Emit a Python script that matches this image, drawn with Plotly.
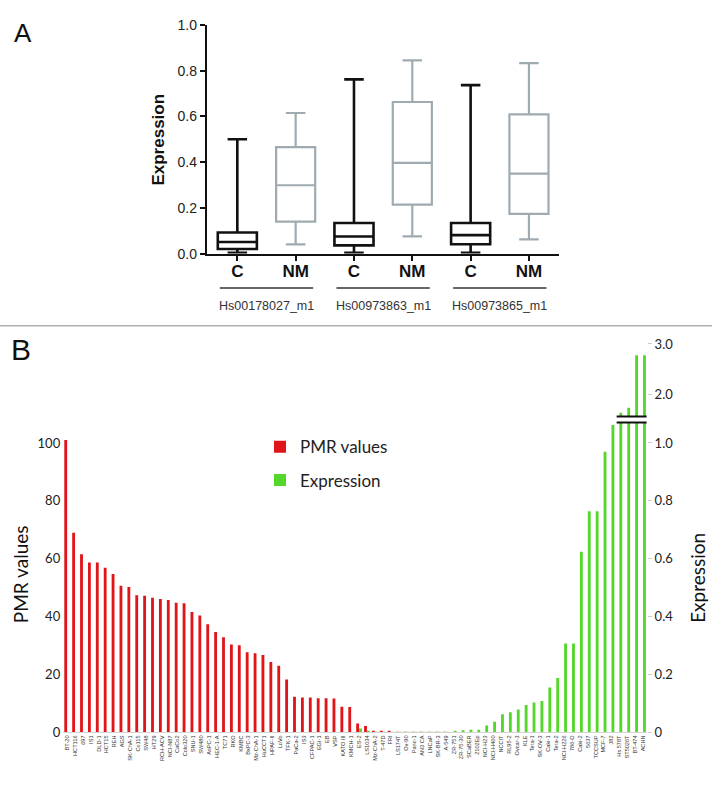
import plotly.graph_objects as go

# ---------------- Panel A data ----------------
genes = ["Hs00178027_m1", "Hs00973863_m1", "Hs00973865_m1"]
box_labels = ["C", "NM", "C", "NM", "C", "NM"]
c_q1 = [0.020, 0.036, 0.041]
c_median = [0.051, 0.075, 0.081]
c_q3 = [0.092, 0.134, 0.134]
c_low = [0.003, 0.004, 0.004]
c_high = [0.500, 0.762, 0.737]
nm_q1 = [0.140, 0.214, 0.174]
nm_median = [0.299, 0.397, 0.350]
nm_q3 = [0.466, 0.663, 0.609]
nm_low = [0.040, 0.075, 0.062]
nm_high = [0.615, 0.845, 0.833]

# ---------------- Panel B data ----------------
cells = ["BT-20", "HCT116", "697", "IS1", "DLD-1", "HCT15", "REH", "AGS", "SK-ChA-1", "Co115",
         "SW48", "HT29", "RCH-ACV", "NCI-N87", "CaCo2", "Colo320", "SNU-1", "SW480", "AsPC-1", "HEC-1-A",
         "TC71", "RKO", "KMBC", "BxPC-3", "Mz-ChA-1", "HuCCT1", "HPAF-II", "LoVo", "TFK-1", "PaCa-2",
         "IS3", "CFPAC-1", "EGI-1", "EB", "VSP", "KATO III", "KMCH-1", "ES-2", "LS1034", "Mz-ChA-2",
         "T-47D", "FRI", "LS174T", "Ov-90", "Panc-1", "AN3 CA", "LNCaP", "SK-BR-3", "A-549", "ZR-751",
         "ZR-75-30", "SCaBER", "2102Ep", "NCI-H23", "NCI-H460", "NCCIT", "RL95-2", "Ovcar-3", "KLE", "Tera-1",
         "SK-OV-3", "Caki-1", "Tera-2", "NCI-H226", "786-O", "Caki-2", "5637", "TCCSUP", "MCF-7", "J82",
         "Hs 578T", "ST5026T", "BT-474", "ACHN"]
pmr = [101, 69, 61.5, 58.7, 58.7, 56.9, 54.7, 50.6, 50.2, 47.4,
       47.2, 46.5, 46.1, 45.7, 44.8, 44.6, 41.6, 40.4, 37.3, 34.7,
       32.8, 30.3, 30.1, 27.7, 27.3, 26.7, 24.3, 23.0, 18.2, 12.3,
       12.0, 12.0, 11.8, 11.8, 11.7, 8.8, 8.7, 3.0, 2.2, 0.4,
       0.3, 0.3, 0.2, 0.2, 0.2, 0.2, 0.2, 0.1, 0.1, 0,
       0, 0, 0, 0, 0, 0, 0, 0, 0, 0,
       0, 0, 0, 0, 0, 0, 0, 0, 0, 0,
       0, 0, 0, 0]
expression = [0, 0, 0, 0, 0, 0, 0, 0, 0, 0,
              0, 0, 0, 0, 0, 0, 0, 0, 0, 0,
              0, 0, 0, 0, 0, 0, 0, 0, 0, 0,
              0, 0, 0, 0, 0, 0, 0, 0.013, 0.003, 0.001,
              0.001, 0.001, 0.001, 0.001, 0.001, 0.001, 0.001, 0.001, 0.002, 0.0056,
              0.007, 0.009, 0.009, 0.023, 0.036, 0.062, 0.069, 0.079, 0.094, 0.103,
              0.108, 0.155, 0.188, 0.307, 0.307, 0.624, 0.764, 0.764, 0.970, 1.062,
              1.65, 1.75, 2.78, 2.78]
pmr_ticks = [0, 20, 40, 60, 80, 100]
expr_ticks = [0, 0.2, 0.4, 0.6, 0.8, 1.0, 2.0, 3.0]
expr_ticktext = ["0", "0.2", "0.4", "0.6", "0.8", "1.0", "2.0", "3.0"]

# broken right axis: linear up to the break, compressed above it
BREAK_D = 1.08


def to_display(v):
    if v <= BREAK_D:
        return v
    return 1.166 + (v - 2.0) * 0.176


expr_disp = [to_display(v) for v in expression]
expr_tickvals = [to_display(v) for v in expr_ticks]

W, H = 712, 787
TOP_D = 1.35

fig = go.Figure()

# ---- Panel B bars ----
fig.add_trace(go.Bar(x=cells, y=pmr, name="PMR values", marker=dict(color="#e0151a", line=dict(width=0)),
                     width=0.36, offset=-0.36, xaxis="x", yaxis="y", legendgroup="a"))
fig.add_trace(go.Bar(x=cells, y=expr_disp, name="Expression", customdata=expression,
                     hovertemplate="%{x}: %{customdata}<extra></extra>",
                     marker=dict(color="#55d62a", line=dict(width=0)),
                     width=0.36, offset=0.0, xaxis="x", yaxis="y2", legendgroup="b"))

# ---- Panel A boxes ----
fig.add_trace(go.Box(x=[0, 2, 4], q1=c_q1, median=c_median, q3=c_q3, lowerfence=c_low, upperfence=c_high,
                     width=0.67, whiskerwidth=0.5, fillcolor="white", line=dict(color="#111111", width=2.6),
                     boxpoints=False, showlegend=False, xaxis="x2", yaxis="y3", name="C"))
fig.add_trace(go.Box(x=[1, 3, 5], q1=nm_q1, median=nm_median, q3=nm_q3, lowerfence=nm_low, upperfence=nm_high,
                     width=0.67, whiskerwidth=0.5, fillcolor="white", line=dict(color="#9fabb1", width=2.2),
                     boxpoints=False, showlegend=False, xaxis="x2", yaxis="y3", name="NM"))

b_font = dict(family="Lato, 'Open Sans', sans-serif", size=13, color="#222222")
a_font = dict(family="'Liberation Sans', Arial, sans-serif", size=14, color="#222222")

fig.update_layout(
    width=W, height=H,
    margin=dict(l=0, r=0, t=0, b=0),
    paper_bgcolor="white", plot_bgcolor="white",
    barmode="overlay",
    showlegend=True,
    legend=dict(x=(300 - 40) / W, xanchor="left", y=1 - 430 / H, yanchor="top",
                font=dict(family="Lato, sans-serif", size=17, color="#222222"),
                bgcolor="rgba(0,0,0,0)", tracegroupgap=8, traceorder="grouped"),
    xaxis=dict(domain=[63.2 / W, 647.0 / W], anchor="y", type="category", range=[-0.5, 73.5],
               tickangle=-90, tickfont=dict(family="'Liberation Sans', Arial, sans-serif", size=5.6, color="#333333"),
               showline=True, linecolor="#d5d5d5", linewidth=1, ticks="", showgrid=False, zeroline=False),
    yaxis=dict(domain=[1 - 739.3 / H, 1 - 340.6 / H], anchor="x", range=[0, TOP_D * 100],
               tickvals=pmr_ticks, tickfont=b_font, showgrid=False, zeroline=False, showline=False,
               ticks="", ticklabelstandoff=2),
    yaxis2=dict(overlaying="y", side="right", anchor="x", range=[0, TOP_D],
                tickvals=expr_tickvals, ticktext=expr_ticktext, tickfont=b_font,
                showgrid=False, zeroline=False, showline=False,
                ticks="outside", ticklen=4, tickcolor="#cccccc", tickwidth=1),
    xaxis2=dict(domain=[207 / W, 558.7 / W], anchor="y3", range=[-0.52, 5.51],
                tickvals=[0, 1, 2, 3, 4, 5], ticktext=box_labels,
                tickfont=dict(family="'Liberation Sans', Arial, sans-serif", size=17, color="#111111", weight="bold"),
                showline=True, linecolor="#111111", linewidth=2.4, ticks="outside", ticklen=5, tickwidth=2.4,
                tickcolor="#111111", showgrid=False, zeroline=False, ticklabelstandoff=-4),
    yaxis3=dict(domain=[1 - 250.7 / H, 1 - 17.3 / H], anchor="x2", range=[0, 1.0],
                tickvals=[0, 0.2, 0.4, 0.6, 0.8, 1.0], tickformat=".1f", tickfont=a_font,
                showline=True, linecolor="#111111", linewidth=2.4, ticks="outside", ticklen=5, tickwidth=2.4,
                tickcolor="#111111", showgrid=False, zeroline=False),
)

shapes = []
# separator between panels
shapes.append(dict(type="line", xref="paper", yref="paper", x0=0, x1=1, y0=1 - 324.3 / H, y1=1 - 324.3 / H,
                   line=dict(color="#b0b0b0", width=1.5)))
# group underlines in panel A
for g in range(len(genes)):
    shapes.append(dict(type="line", xref="x2", yref="paper", x0=2 * g - 0.3, x1=2 * g + 1.3,
                       y0=1 - 285.7 / H, y1=1 - 285.7 / H, line=dict(color="#333333", width=1.5)))
# axis break marker on the tall green bars
shapes.append(dict(type="rect", xref="x", yref="y2", x0=69.65, x1=73.45, y0=1.071, y1=1.091,
                   fillcolor="white", line=dict(width=0), layer="above"))
for yy in (1.071, 1.091):
    shapes.append(dict(type="line", xref="x", yref="y2", x0=69.65, x1=73.45, y0=yy, y1=yy,
                       line=dict(color="#111111", width=2), layer="above"))
fig.update_layout(shapes=shapes)

ann = []
for g, name in enumerate(genes):
    ann.append(dict(text=name, xref="x2", yref="paper", x=2 * g + 0.5, y=1 - 304 / H, showarrow=False,
                    xanchor="center", yanchor="middle",
                    font=dict(family="'Liberation Sans', Arial, sans-serif", size=12.5, color="#333333")))
ann.append(dict(text="<b>Expression</b>", xref="paper", yref="paper", x=158.3 / W, y=1 - 134 / H,
                textangle=-90, showarrow=False, xanchor="center", yanchor="middle",
                font=dict(family="'Liberation Sans', Arial, sans-serif", size=17, color="#111111")))
ann.append(dict(text="PMR values", xref="paper", yref="paper", x=20 / W, y=1 - 578 / H,
                textangle=-90, showarrow=False, xanchor="center", yanchor="middle",
                font=dict(family="Lato, sans-serif", size=19, color="#111111")))
ann.append(dict(text="Expression", xref="paper", yref="paper", x=696.7 / W, y=1 - 582 / H,
                textangle=-90, showarrow=False, xanchor="center", yanchor="middle",
                font=dict(family="Lato, sans-serif", size=19, color="#111111")))
ann.append(dict(text="A", xref="paper", yref="paper", x=22.7 / W, y=1 - 26 / H, showarrow=False,
                xanchor="center", yanchor="middle",
                font=dict(family="'Liberation Sans', Arial, sans-serif", size=26, color="#111111")))
ann.append(dict(text="B", xref="paper", yref="paper", x=21.2 / W, y=1 - 349 / H, showarrow=False,
                xanchor="center", yanchor="middle",
                font=dict(family="'Liberation Sans', Arial, sans-serif", size=30, color="#111111")))
fig.update_layout(annotations=ann)

fig.write_html("out.html", config={"displayModeBar": False},
               post_script="document.body.style.margin='0px';")
